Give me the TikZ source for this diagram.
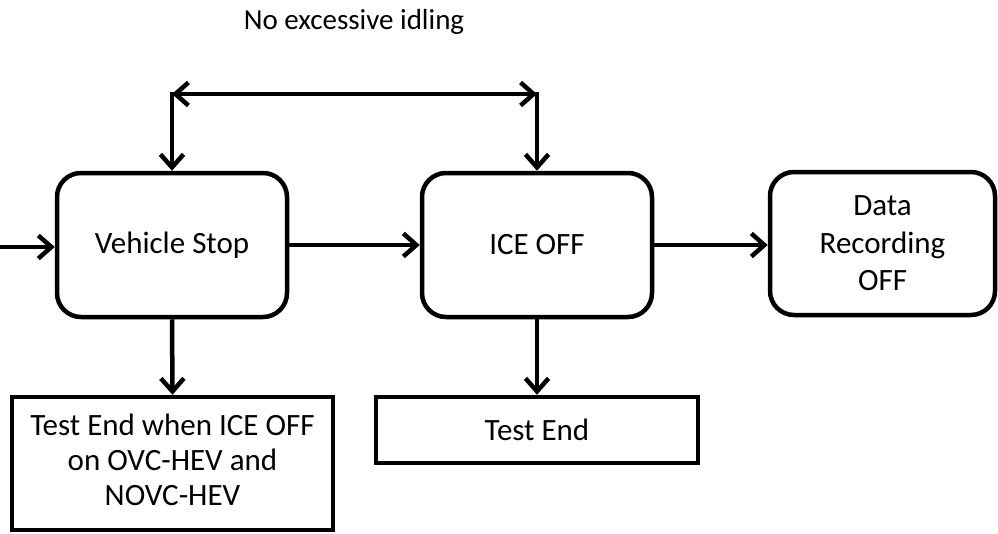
\documentclass[tikz,border=0pt]{standalone}
\usepackage{fontspec}
\setmainfont{Carlito}
\usetikzlibrary{arrows.meta}
\begin{document}
\begin{tikzpicture}[x=1pt,y=-1pt,
  rbox/.style={draw, line width=4.5pt, rounded corners=24pt, minimum width=230pt, minimum height=144pt, align=center, inner sep=0pt, font=\fontsize{31}{37.5}\selectfont},
  sbox/.style={draw, line width=4.5pt, align=center, inner sep=0pt, font=\fontsize{31}{35}\selectfont},
  conn/.style={line width=4.5pt, -{Straight Barb[length=13pt, width=23pt, line width=4.5pt]}},
  both/.style={line width=4.5pt, {Straight Barb[length=13pt, width=23pt, line width=4.5pt]}-{Straight Barb[length=13pt, width=23pt, line width=4.5pt]}}
]
\useasboundingbox (0,0) rectangle (998,533);
\node[rbox] (vs) at (172,245) {Vehicle Stop};
\node[rbox] (ice) at (537,245) {ICE OFF};
\node[rbox, minimum width=225pt, minimum height=143pt] (data) at (882.5,243.5) {Data\\Recording\\OFF};
\node[sbox, minimum width=321pt, minimum height=133pt] (te1) at (172.5,463.5) {\raisebox{5pt}{\begin{tabular}{@{}c@{}}Test End when ICE OFF\\on OVC-HEV and\\NOVC-HEV\end{tabular}}};
\node[sbox, minimum width=322pt, minimum height=66pt] (te2) at (537,430) {Test End};
\node[font=\fontsize{29}{35}\selectfont, inner sep=0pt] (lbl) at (354,22) {No excessive idling};
\coordinate (tl) at (172,94);
\coordinate (tr) at (537,94);
\coordinate (in) at (0,247);
\draw[conn] (in) -- (vs.west |- in);
\draw[both] (tl) -- (tr);
\draw[conn] ([yshift=2.25pt]tl) -- (vs.north);
\draw[conn] ([yshift=2.25pt]tr) -- (ice.north);
\draw[conn] (vs.east) -- (ice.west);
\draw[conn] (ice.east) -- (data.west |- ice.east);
\draw[conn] (vs.south) -- (te1.north);
\draw[conn] (ice.south) -- (te2.north);
\end{tikzpicture}
\end{document}
